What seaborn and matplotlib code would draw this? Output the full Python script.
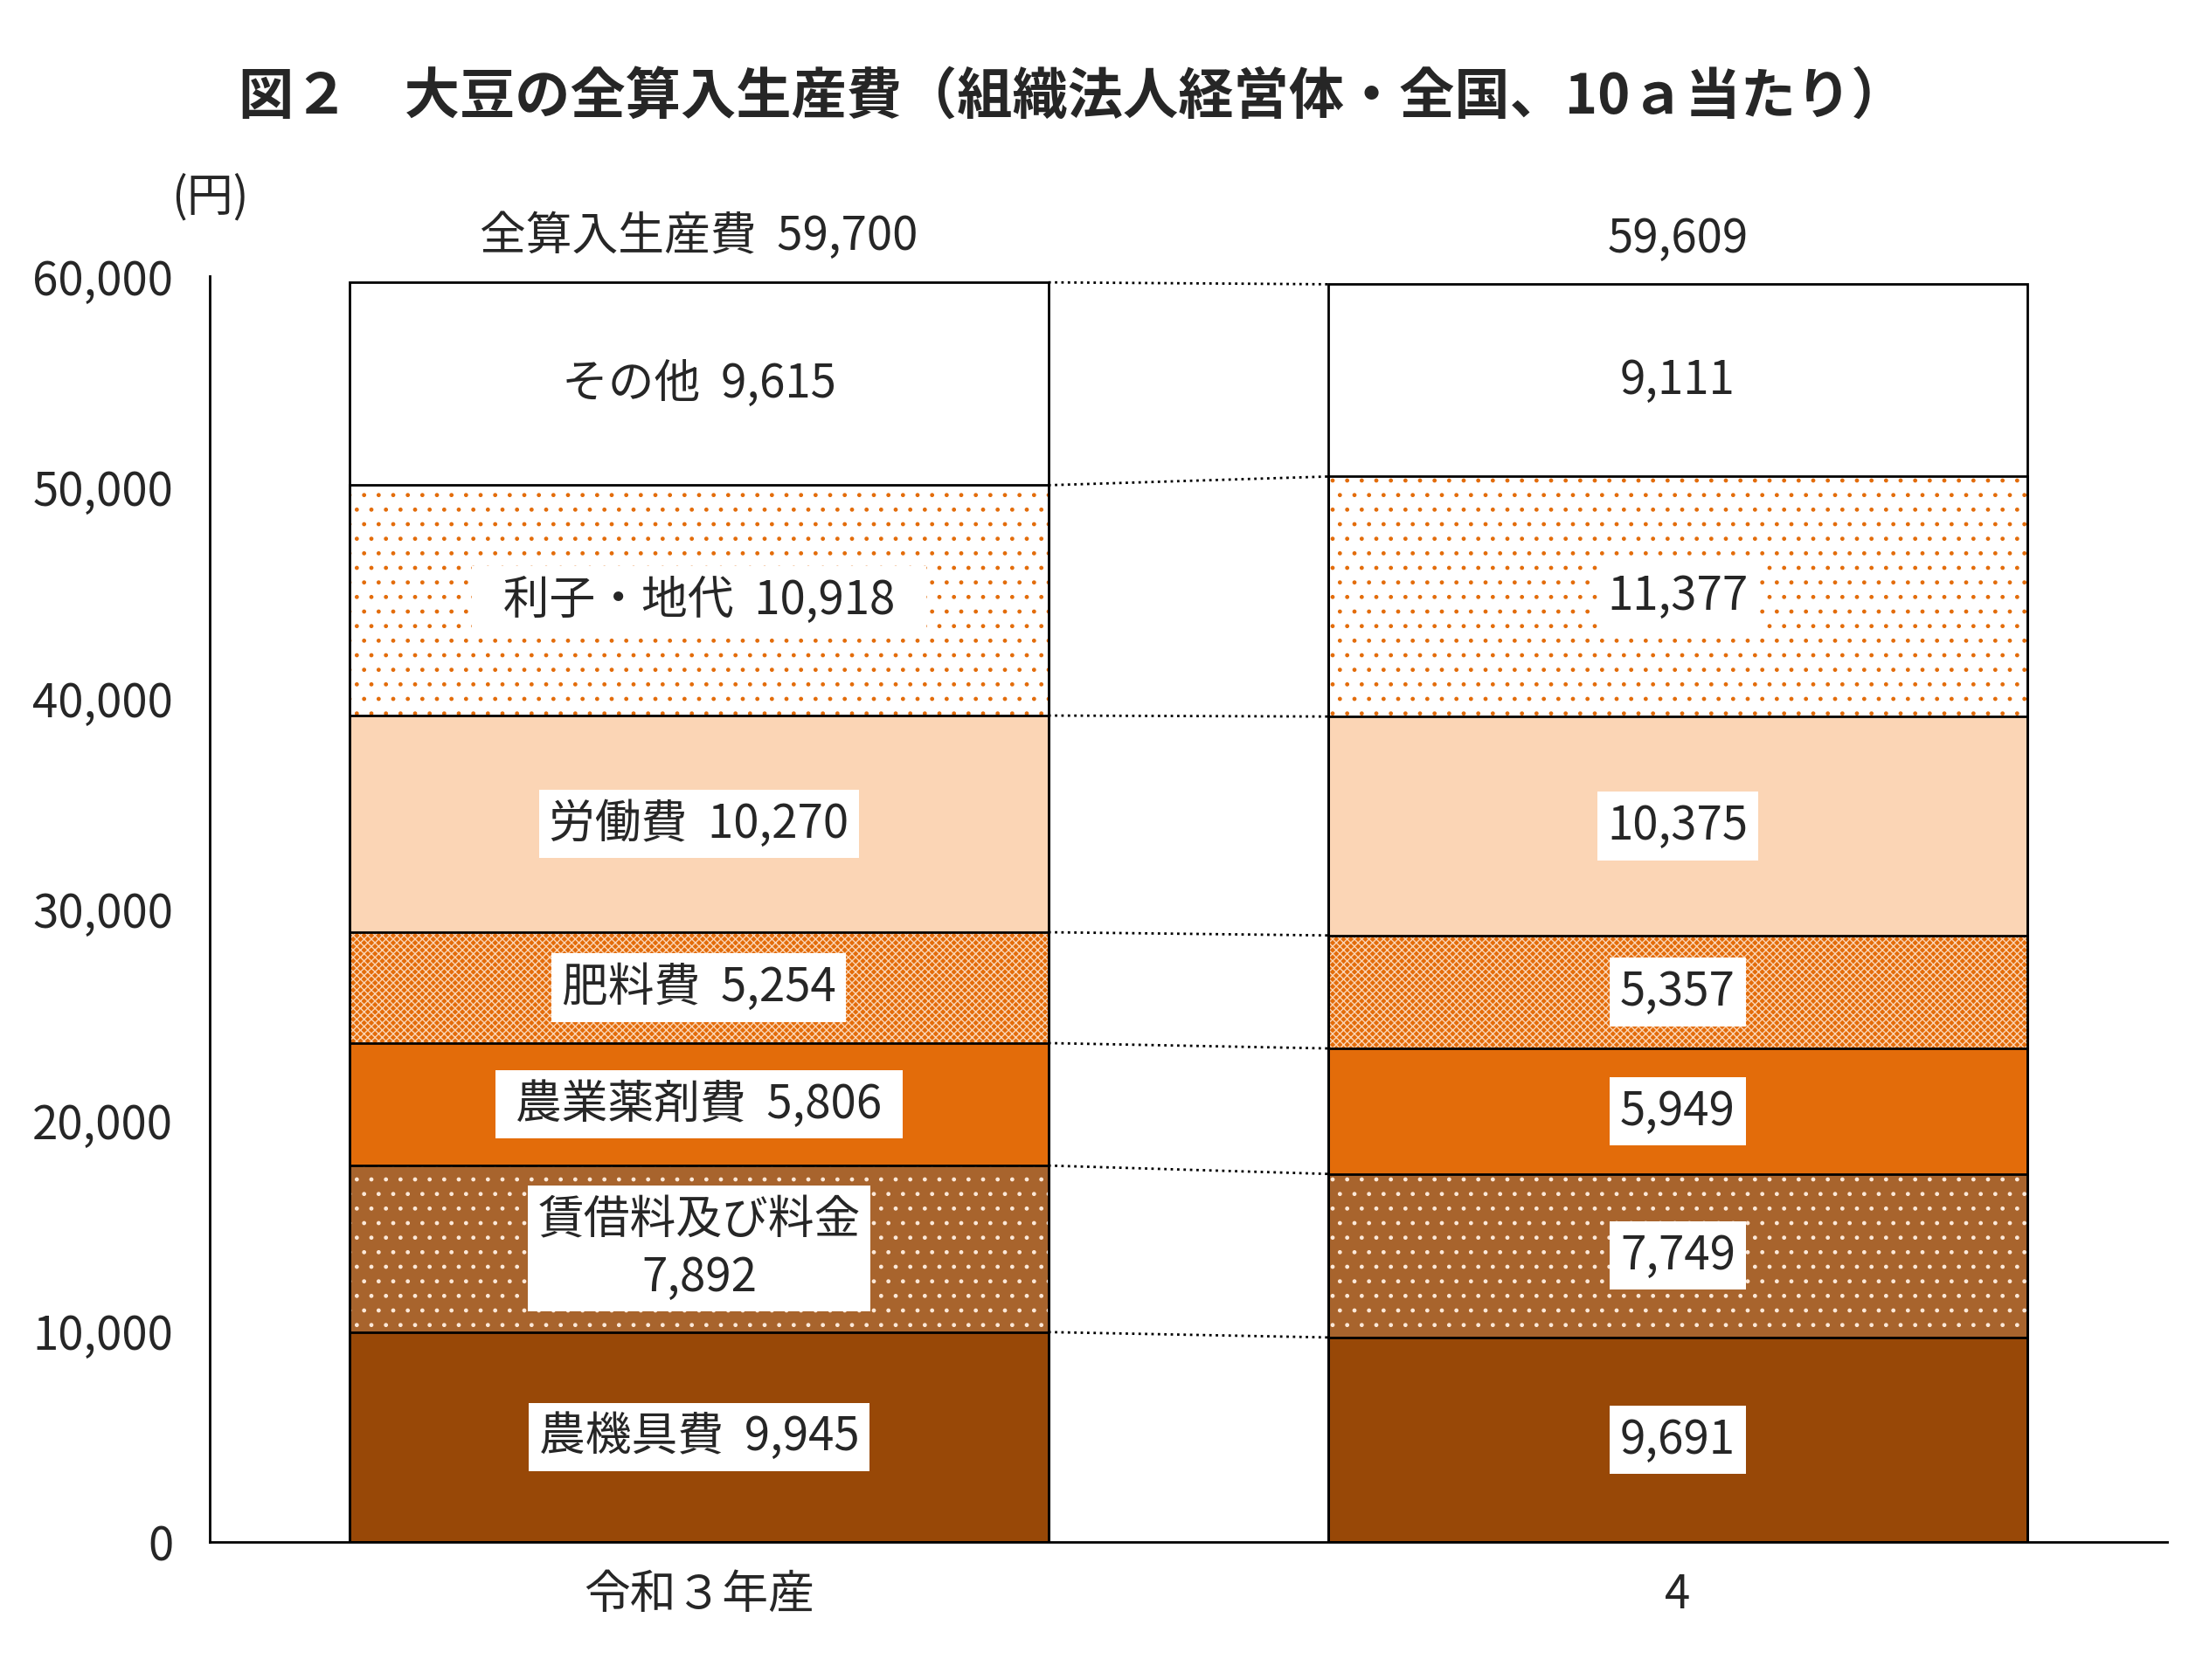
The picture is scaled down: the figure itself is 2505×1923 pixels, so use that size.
import matplotlib
matplotlib.use('Agg')
import matplotlib.pyplot as plt
import seaborn as sns
import pandas as pd
import numpy as np

# data
years = ['令和３年産', '4']
categories = ['農機具費', '賃借料及び料金', '農業薬剤費', '肥料費', '労働費', '利子・地代', 'その他']
values_r3 = [9945, 7892, 5806, 5254, 10270, 10918, 9615]
values_r4 = [9691, 7749, 5949, 5357, 10375, 11377, 9111]
totals = [59700, 59609]
yticks = [0, 10000, 20000, 30000, 40000, 50000, 60000]

# styles per category (bottom -> top)
face_colors = ['#984807', '#A8642D', '#E36C0A', '#E36C0A', '#FBD5B5', '#FFFFFF', '#FFFFFF']
hatch_colors = ['#984807', '#FDE9D9', '#E36C0A', '#FBD5B5', '#FBD5B5', '#E36C0A', '#FFFFFF']
hatches = ['', '.', '', 'xxxx', '', '.', '']

sns.set_style('white')
plt.rcParams['font.family'] = ['Noto Sans CJK JP', 'DejaVu Sans']
plt.rcParams['hatch.linewidth'] = 1.0

df = pd.DataFrame({
    'year': np.repeat(years, len(categories)),
    'category': categories * 2,
    'value': values_r3 + values_r4,
})
df['top'] = df.groupby('year', sort=False)['value'].cumsum()
df['bottom'] = df['top'] - df['value']

fig = plt.figure(figsize=(25.05, 19.23), dpi=100)
ax = fig.add_axes([0.0958, 0.0822, 0.8942, 0.7535])
bw = 0.714

# stacked bars drawn as overlapping cumulative bars (top layer first)
for i in reversed(range(len(categories))):
    sub = df[df['category'] == categories[i]]
    sns.barplot(data=sub, x='year', y='top', order=years, color=face_colors[i],
                saturation=1, width=bw, errorbar=None, edgecolor=hatch_colors[i],
                linewidth=0, hatch=hatches[i], ax=ax)
for i in reversed(range(len(categories))):
    sub = df[df['category'] == categories[i]]
    sns.barplot(data=sub, x='year', y='top', order=years, color='black', fill=False,
                saturation=1, width=bw, errorbar=None, linewidth=2.0, ax=ax)

# dotted connector lines
for cat in categories:
    sub = df[df['category'] == cat].set_index('year')
    ax.plot([0 + bw / 2, 1 - bw / 2], [sub.loc[years[0], 'top'], sub.loc[years[1], 'top']],
            ls=':', color='black', lw=2.0)

# segment labels
box = dict(boxstyle='square,pad=0.22', facecolor='white', edgecolor='none')
for _, r in df.iterrows():
    xi = years.index(r['year'])
    yc = r['bottom'] + r['value'] / 2
    if xi == 0:
        sep = '\n' if r['category'] == '賃借料及び料金' else '  '
        label = f"{r['category']}{sep}{r['value']:,}"
        if r['category'] == '利子・地代':
            label = '  ' + label + '  '
        elif r['category'] == '農業薬剤費':
            label = ' ' + label + ' '
    else:
        label = f"{r['value']:,}"
    ax.text(xi, yc, label, ha='center', va='center', fontsize=38, bbox=box,
            linespacing=1.25)

# totals
for i, t in enumerate(totals):
    label = f'全算入生産費  {t:,}' if i == 0 else f'{t:,}'
    ax.annotate(label, xy=(i, t), xytext=(0, 18), textcoords='offset points',
                ha='center', va='bottom', fontsize=38)

ax.set_xlim(-0.5, 1.5)
ax.set_ylim(0, 60000)
ax.set_yticks(yticks)
ax.set_yticklabels([f'{v:,}' for v in yticks])
ax.set_xlabel('')
ax.set_ylabel('')
ax.tick_params(axis='y', direction='in', length=10, width=2.0, pad=30, labelsize=38)
ax.tick_params(axis='x', length=0, pad=24, labelsize=38)
sns.despine(ax=ax)
for s in ['left', 'bottom']:
    ax.spines[s].set_color('black')
    ax.spines[s].set_linewidth(2.0)

ax.annotate('(円)', xy=(0, 1), xycoords='axes fraction', xytext=(0, 65),
            textcoords='offset points', ha='center', va='center', fontsize=38)

fig.text(0.49, 0.942, '図２　大豆の全算入生産費（組織法人経営体・全国、10ａ当たり）',
         ha='center', va='center', fontsize=45.5, fontweight='bold')

fig.savefig('out.png', dpi=100, facecolor='white')
